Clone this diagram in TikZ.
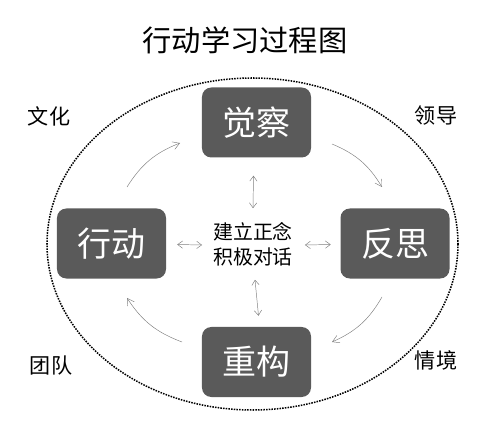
\documentclass[tikz,border=0pt]{standalone}
\usepackage{fontspec}
\setmainfont{Noto Sans CJK SC}
\usetikzlibrary{positioning,arrows.meta,calc}
\definecolor{boxgray}{HTML}{5A5A5A}
\tikzset{
  stagebox/.style={draw=none,fill=boxgray,rounded corners=8pt,text=white,
    minimum width=3.27cm,minimum height=2.1cm,font=\fontsize{29}{29}\selectfont},
  sidelabel/.style={font=\fontsize{18}{18}\selectfont},
  cycle/.style={draw=gray,thin,-{Straight Barb[length=2mm,width=2.4mm]}},
  link/.style={draw=gray,thin,{Straight Barb[length=1.5mm,width=2.2mm]}-{Straight Barb[length=1.5mm,width=2.2mm]}},
}

\begin{document}
\begin{tikzpicture}[x=0.03cm,y=-0.03cm]
\useasboundingbox (0,0) rectangle (500,427);

% title
\node[font=\fontsize{25}{25}\selectfont] (title) at (245,40) {行动学习过程图};

% dotted boundary
\draw[line width=1.3pt,densely dotted] (252.5,244) ellipse [x radius=205.5,y radius=166];

% four stages
\node[stagebox] (aware) at (256.5,122.5) {觉察};
\node[stagebox] (act) at (111.5,243.5) {行动};
\node[stagebox] (reflect) at (395,243.5) {反思};
\node[stagebox] (rebuild) at (256.5,362) {重构};

% centre
\node[align=center,font=\fontsize{17}{21}\selectfont] (core) at (253,244) {建立正念\\积极对话};

% corner labels
\node[sidelabel] (culture) at (49,116) {文化};
\node[sidelabel] (lead) at (436,116) {领导};
\node[sidelabel] (team) at (51,366) {团队};
\node[sidelabel] (context) at (436,360) {情境};

% cycle arrows
\coordinate (c1s) at (127,187); \coordinate (c1e) at (180,143);
\coordinate (c2s) at (332,144); \coordinate (c2e) at (382,187);
\coordinate (c3s) at (382,297); \coordinate (c3e) at (332,342);
\coordinate (c4s) at (182,342); \coordinate (c4e) at (127,298);
\draw[cycle] (c1s) to[bend left=18] (c1e);
\draw[cycle] (c2s) to[bend left=18] (c2e);
\draw[cycle] (c3s) to[bend left=18] (c3e);
\draw[cycle] (c4s) to[bend left=18] (c4e);

% links to the centre
\draw[link] ($(aware.south)+(-3,18)$) -- ($(core.north)+(0,-10)$);
\draw[link] ($(core.south)+(2,10)$) -- ($(rebuild.north)+(2,-11)$);
\draw[link] ($(act.east)+(11,1)$) -- ($(core.west)+(-7,1)$);
\draw[link] ($(core.east)+(8,1)$) -- ($(reflect.east)+(-119,1)$);

\end{tikzpicture}
\end{document}
